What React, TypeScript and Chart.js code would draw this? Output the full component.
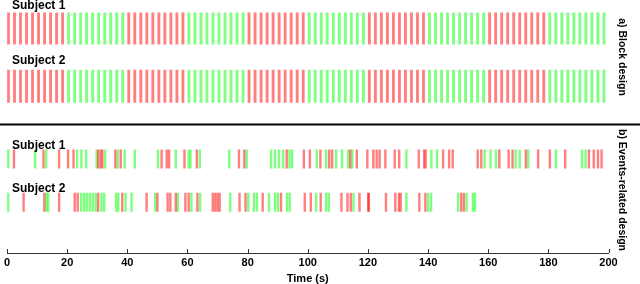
import React, { useEffect, useRef } from "react";
import { Chart, registerables } from "chart.js";

Chart.register(...registerables);

// ---------- DATA ----------
const BLOCK_STARTS = [0, 20, 40, 60, 80, 100, 120, 140, 160, 180];
const BLOCK_CONDITIONS_S1 = ["A", "B", "A", "B", "A", "B", "A", "B", "A", "B"];
const BLOCK_CONDITIONS_S2 = ["A", "B", "A", "B", "A", "B", "A", "B", "A", "B"];
const TRIAL_OFFSETS = [0, 2, 4, 6, 8, 10, 12, 14, 16, 18];
const TRIAL_DURATION = 0.95;

const EVENT_DURATION = 0.8;
const S1_RED_EVENTS = [1.9, 11.7, 16.9, 19.9, 21.7, 29.9, 30.7, 31.3, 35.6, 37.4, 51.0, 52.7, 53.5, 58.6, 62.7, 76.7, 78.5, 92.6, 98.3, 100.3, 103.8, 106.7, 107.7, 113.7, 115.9, 119.4, 121.4, 122.5, 123.5, 125.4, 128.5, 130.0, 136.5, 138.3, 138.8, 144.6, 146.6, 147.8, 156.1, 157.3, 163.3, 166.4, 167.7, 172.1, 176.2, 180.1, 185.2, 193.1, 194.7, 196.1, 197.3];
const S1_GREEN_EVENTS = [0, 8.9, 12.6, 22.9, 24.3, 25.9, 29.4, 32.2, 36.4, 38.7, 42.1, 49.8, 55.7, 60.0, 60.6, 63.7, 73.5, 79.3, 87.4, 88.7, 90.0, 91.4, 93.5, 94.4, 102.6, 105.7, 109.0, 111.0, 113.0, 114.4, 132.4, 140.7, 142.6, 158.4, 160.4, 162.2, 168.7, 170.1, 172.9, 182.1, 190.8, 192.0];
const S2_RED_EVENTS = [5.1, 12.0, 16.9, 22.1, 23.1, 29.9, 37.9, 46.0, 49.6, 53.0, 53.9, 55.7, 58.9, 60.0, 62.9, 68.0, 68.8, 69.6, 70.3, 76.9, 78.9, 84.6, 90.7, 98.6, 100.6, 103.9, 110.8, 112.8, 113.9, 116.8, 119.7, 119.9, 125.6, 128.7, 129.9, 130.5, 136.7, 138.7, 150.6, 151.5];
const S2_GREEN_EVENTS = [0, 12.7, 13.3, 24.2, 25.2, 26.1, 27.1, 28.1, 29.1, 31.0, 31.9, 35.9, 36.6, 39.0, 41.0, 48.9, 56.4, 60.9, 63.8, 73.8, 79.8, 81.7, 82.7, 86.7, 88.7, 89.7, 92.7, 93.6, 102.4, 105.7, 106.6, 114.8, 132.4, 139.6, 140.6, 149.6, 152.4, 154.5, 155.2];

const X_TICKS = [0, 20, 40, 60, 80, 100, 120, 140, 160, 180, 200];
const ROW_LABELS = ["Subject 1", "Subject 2"];
const PANEL_LABELS = ["a) Block design", "b) Events-related design"];
const X_TITLE = "Time (s)";

// ---------- LAYOUT / STYLE ----------
const W = 640;
const H = 284;
const PLOT_BOTTOM = 257; // y-scale range in pixels of the chart area
const ROW_BANDS = {
  blockS1: [13, 45],
  blockS2: [71, 104],
  eventS1: [152, 171],
  eventS2: [196, 215],
};
const LABEL_BASELINES = [9, 64, 148.5, 191.5];
const LABEL_X = 12;
const SEPARATOR_Y = 124.5;
const PANEL_LABEL_X = 622;
const PANEL_LABEL_CENTERS = [57, 190];
const RED = "rgba(255,0,0,0.5)";
const GREEN = "rgba(0,255,0,0.5)";
const FONT_LABEL = "bold 12px 'Liberation Sans', Arial, sans-serif";
const FONT_PANEL = "bold 10.5px 'Liberation Sans', Arial, sans-serif";
const AXIS_FAMILY = "'Liberation Sans Narrow', 'Liberation Sans', Arial, sans-serif";

const center = (b: number[]) => (b[0] + b[1]) / 2;
const thick = (b: number[]) => b[1] - b[0];

function blockTrials(conds: string[], cond: string, band: number[]) {
  const out: { x: number[]; y: number }[] = [];
  BLOCK_STARTS.forEach((s, i) => {
    if (conds[i] !== cond) return;
    TRIAL_OFFSETS.forEach((o) => {
      out.push({ x: [s + o, s + o + TRIAL_DURATION], y: center(band) });
    });
  });
  return out;
}

function eventBars(times: number[], band: number[]) {
  return times.map((t) => ({ x: [t, t + EVENT_DURATION], y: center(band) }));
}

function ds(data: any[], color: string, band: number[]) {
  return {
    data,
    backgroundColor: color,
    borderWidth: 0,
    barThickness: thick(band),
    grouped: false,
    inflateAmount: 0,
  };
}

const overlayPlugin = {
  id: "overlay",
  afterDraw(chart: any) {
    const ctx = chart.ctx;
    const xs = chart.scales.x;
    ctx.save();
    // separator
    ctx.strokeStyle = "#000";
    ctx.lineWidth = 2;
    ctx.beginPath();
    ctx.moveTo(0, SEPARATOR_Y);
    ctx.lineTo(W, SEPARATOR_Y);
    ctx.stroke();
    // subject labels
    ctx.fillStyle = "#000";
    ctx.font = FONT_LABEL;
    ctx.textAlign = "left";
    ctx.textBaseline = "alphabetic";
    LABEL_BASELINES.forEach((y, i) => {
      ctx.fillText(ROW_LABELS[i % 2], LABEL_X, y);
    });
    // panel labels (rotated)
    ctx.font = FONT_PANEL;
    ctx.textAlign = "center";
    ctx.textBaseline = "middle";
    PANEL_LABELS.forEach((t, i) => {
      ctx.save();
      ctx.translate(PANEL_LABEL_X, PANEL_LABEL_CENTERS[i]);
      ctx.rotate(Math.PI / 2);
      ctx.fillText(t, 0, 0);
      ctx.restore();
    });
    // inward tick marks
    ctx.strokeStyle = "#333";
    ctx.lineWidth = 1;
    const yb = chart.chartArea.bottom;
    X_TICKS.forEach((v) => {
      const px = Math.round(xs.getPixelForValue(v)) + 0.5;
      ctx.beginPath();
      ctx.moveTo(px, yb);
      ctx.lineTo(px, yb - 4);
      ctx.stroke();
    });
    ctx.restore();
  },
};

export default function App() {
  const ref = useRef<HTMLCanvasElement>(null);
  useEffect(() => {
    const chart = new Chart(ref.current!, {
      type: "bar",
      data: {
        datasets: [
          ds(blockTrials(BLOCK_CONDITIONS_S1, "A", ROW_BANDS.blockS1), RED, ROW_BANDS.blockS1),
          ds(blockTrials(BLOCK_CONDITIONS_S1, "B", ROW_BANDS.blockS1), GREEN, ROW_BANDS.blockS1),
          ds(blockTrials(BLOCK_CONDITIONS_S2, "A", ROW_BANDS.blockS2), RED, ROW_BANDS.blockS2),
          ds(blockTrials(BLOCK_CONDITIONS_S2, "B", ROW_BANDS.blockS2), GREEN, ROW_BANDS.blockS2),
          ds(eventBars(S1_RED_EVENTS, ROW_BANDS.eventS1), RED, ROW_BANDS.eventS1),
          ds(eventBars(S1_GREEN_EVENTS, ROW_BANDS.eventS1), GREEN, ROW_BANDS.eventS1),
          ds(eventBars(S2_RED_EVENTS, ROW_BANDS.eventS2), RED, ROW_BANDS.eventS2),
          ds(eventBars(S2_GREEN_EVENTS, ROW_BANDS.eventS2), GREEN, ROW_BANDS.eventS2),
        ] as any,
      },
      options: {
        indexAxis: "y",
        animation: false,
        responsive: false,
        maintainAspectRatio: false,
        devicePixelRatio: 1,
        events: [],
        layout: { padding: { left: 6.7, right: 31.5, top: 0, bottom: 0 } },
        plugins: { legend: { display: false }, tooltip: { enabled: false }, title: { display: false } },
        scales: {
          y: {
            type: "linear",
            display: false,
            offset: false,
            min: 0,
            max: PLOT_BOTTOM,
            reverse: true,
          },
          x: {
            type: "linear",
            position: "bottom",
            offset: false,
            min: 0,
            max: 200,
            afterBuildTicks: (s: any) => {
              s.ticks = X_TICKS.map((v) => ({ value: v }));
            },
            ticks: {
              autoSkip: false,
              maxRotation: 0,
              minRotation: 0,
              padding: 4,
              color: "#000",
              font: { family: AXIS_FAMILY, size: 11, weight: "bold", lineHeight: 1 },
            },
            grid: { display: false, drawTicks: false, tickLength: 0 },
            border: { display: true, color: "#333", width: 1 },
            title: {
              display: true,
              text: X_TITLE,
              color: "#000",
              padding: { top: 1, bottom: 0 },
              font: { family: AXIS_FAMILY, size: 11, weight: "bold", lineHeight: 1 },
            },
          },
        },
      } as any,
      plugins: [overlayPlugin],
    });
    return () => chart.destroy();
  }, []);
  return (
    <div style={{ position: "absolute", left: 0, top: 0, width: W, height: H, background: "#fff" }}>
      <canvas ref={ref} width={W} height={H} style={{ display: "block", width: W, height: H }} />
    </div>
  );
}
